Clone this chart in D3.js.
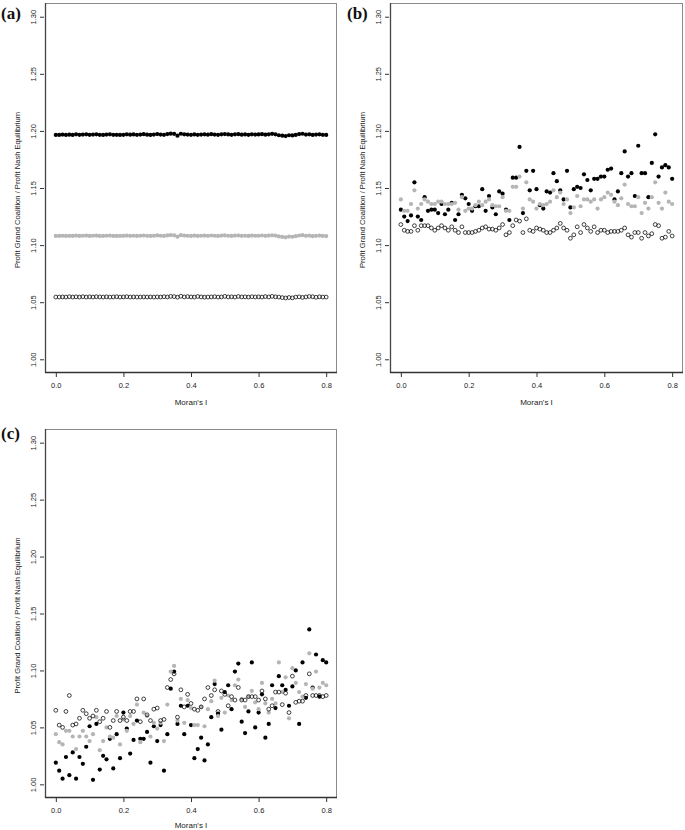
<!DOCTYPE html>
<html>
<head>
<meta charset="utf-8">
<script src="https://cdn.jsdelivr.net/npm/d3@7/dist/d3.min.js"></script>
<style>
  html, body { margin: 0; padding: 0; background: #fff; }
  svg { display: block; }
  text { font-family: "Liberation Sans", Arial, Helvetica, sans-serif; }
</style>
</head>
<body>
<svg id="chart" width="685" height="830"></svg>
<script>
// ---------- DATA ----------
const moranI = [0.00,0.01,0.02,0.03,0.04,0.05,0.06,0.07,0.08,0.09,0.10,0.11,0.12,0.13,0.14,0.15,0.16,0.17,0.18,0.19,
  0.20,0.21,0.22,0.23,0.24,0.25,0.26,0.27,0.28,0.29,0.30,0.31,0.32,0.33,0.34,0.35,0.36,0.37,0.38,0.39,
  0.40,0.41,0.42,0.43,0.44,0.45,0.46,0.47,0.48,0.49,0.50,0.51,0.52,0.53,0.54,0.55,0.56,0.57,0.58,0.59,
  0.60,0.61,0.62,0.63,0.64,0.65,0.66,0.67,0.68,0.69,0.70,0.71,0.72,0.73,0.74,0.75,0.76,0.77,0.78,0.79,0.80];

const yTicks = [1.00, 1.05, 1.10, 1.15, 1.20, 1.25, 1.30];
const xTicks = [0.0, 0.2, 0.4, 0.6, 0.8];
const xLabel = "Moran's I";
const yLabel = "Profit Grand Coalition / Profit Nash Equilibrium";
const panelLabels = ["(a)", "(b)", "(c)"];

// Panel (a)
const aBlack = [1.1965,1.1965,1.1968,1.1965,1.1967,1.1965,1.1970,1.1966,1.1968,1.1970,1.1966,1.1968,1.1970,1.1966,1.1965,1.1968,1.1970,1.1966,1.1966,1.1965,
  1.1966,1.1970,1.1967,1.1969,1.1966,1.1968,1.1971,1.1967,1.1965,1.1968,1.1972,1.1968,1.1966,1.1972,1.1976,1.1974,1.1958,1.1975,1.1970,1.1968,
  1.1966,1.1969,1.1966,1.1968,1.1970,1.1967,1.1971,1.1968,1.1966,1.1970,1.1972,1.1969,1.1966,1.1970,1.1971,1.1967,1.1969,1.1966,1.1970,1.1968,
  1.1969,1.1971,1.1967,1.1970,1.1974,1.1970,1.1962,1.1958,1.1955,1.1962,1.1960,1.1965,1.1972,1.1975,1.1968,1.1970,1.1965,1.1968,1.1970,1.1966,1.1965];
const aGray = [1.1080,1.1080,1.1082,1.1080,1.1081,1.1080,1.1083,1.1080,1.1082,1.1083,1.1080,1.1082,1.1083,1.1080,1.1080,1.1082,1.1083,1.1080,1.1080,1.1080,
  1.1081,1.1083,1.1081,1.1082,1.1080,1.1082,1.1084,1.1081,1.1080,1.1082,1.1085,1.1082,1.1080,1.1085,1.1088,1.1086,1.1074,1.1087,1.1083,1.1082,
  1.1080,1.1083,1.1080,1.1082,1.1083,1.1081,1.1084,1.1082,1.1080,1.1083,1.1085,1.1082,1.1080,1.1083,1.1084,1.1081,1.1082,1.1080,1.1083,1.1082,
  1.1082,1.1084,1.1081,1.1083,1.1086,1.1083,1.1076,1.1072,1.1068,1.1075,1.1073,1.1078,1.1084,1.1087,1.1081,1.1083,1.1078,1.1081,1.1083,1.1080,1.1079];
const aOpen = [1.0545,1.0545,1.0546,1.0545,1.0548,1.0545,1.0547,1.0545,1.0548,1.0545,1.0547,1.0545,1.0548,1.0546,1.0545,1.0547,1.0545,1.0546,1.0548,1.0545,
  1.0546,1.0548,1.0545,1.0546,1.0545,1.0545,1.0546,1.0545,1.0546,1.0545,1.0546,1.0545,1.0548,1.0546,1.0551,1.0549,1.0544,1.0552,1.0546,1.0549,
  1.0546,1.0545,1.0550,1.0546,1.0544,1.0545,1.0546,1.0548,1.0545,1.0546,1.0551,1.0546,1.0547,1.0545,1.0550,1.0546,1.0547,1.0545,1.0548,1.0546,
  1.0547,1.0545,1.0549,1.0546,1.0551,1.0547,1.0545,1.0540,1.0537,1.0541,1.0538,1.0545,1.0547,1.0542,1.0546,1.0550,1.0548,1.0543,1.0547,1.0545,1.0545];

// Panel (b)
const bBlack = [1.131,1.125,1.121,1.126,1.155,1.125,1.122,1.142,1.130,1.131,1.131,1.128,1.136,1.127,1.131,1.137,1.122,1.127,1.144,1.141,
  1.136,1.130,1.134,1.134,1.149,1.130,1.143,1.133,1.127,1.147,1.145,1.131,1.122,1.159,1.159,1.186,1.128,1.165,1.148,1.165,
  1.149,1.135,1.132,1.147,1.146,1.163,1.156,1.148,1.140,1.165,1.133,1.149,1.151,1.150,1.162,1.157,1.148,1.158,1.158,1.160,
  1.160,1.166,1.167,1.140,1.147,1.163,1.182,1.160,1.163,1.143,1.187,1.163,1.163,1.142,1.172,1.197,1.160,1.168,1.170,1.168,1.158];
const bGray = [1.140,1.130,1.130,1.136,1.148,1.132,1.136,1.140,1.138,1.136,1.136,1.138,1.138,1.136,1.136,1.136,1.137,1.131,1.142,1.130,
  1.132,1.132,1.135,1.138,1.135,1.138,1.140,1.135,1.134,1.134,1.142,1.130,1.130,1.151,1.151,1.160,1.132,1.155,1.140,1.138,
  1.132,1.136,1.135,1.136,1.138,1.148,1.142,1.146,1.136,1.140,1.128,1.133,1.143,1.134,1.140,1.140,1.138,1.140,1.132,1.140,
  1.142,1.146,1.144,1.138,1.135,1.141,1.153,1.136,1.134,1.134,1.142,1.128,1.137,1.132,1.142,1.155,1.137,1.132,1.146,1.138,1.136];
const bOpen = [1.118,1.113,1.112,1.112,1.117,1.113,1.117,1.117,1.117,1.115,1.113,1.115,1.117,1.115,1.113,1.116,1.113,1.111,1.116,1.111,
  1.111,1.111,1.112,1.113,1.115,1.116,1.114,1.114,1.113,1.115,1.118,1.109,1.111,1.117,1.122,1.121,1.111,1.123,1.113,1.112,
  1.115,1.114,1.113,1.111,1.111,1.113,1.115,1.119,1.115,1.113,1.106,1.109,1.116,1.111,1.118,1.115,1.112,1.116,1.111,1.113,
  1.113,1.111,1.112,1.112,1.112,1.113,1.115,1.109,1.107,1.111,1.111,1.106,1.111,1.108,1.110,1.118,1.117,1.106,1.107,1.112,1.108];

// Panel (c)
const cBlack = [1.019,1.012,1.005,1.024,1.008,1.028,1.005,1.024,1.018,1.033,1.051,1.004,1.053,1.013,1.025,1.022,1.040,1.014,1.044,1.023,
  1.063,1.049,1.027,1.039,1.056,1.040,1.040,1.046,1.019,1.051,1.038,1.052,1.012,1.044,1.084,1.099,1.053,1.069,1.044,1.069,
  1.052,1.023,1.031,1.041,1.021,1.035,1.059,1.088,1.062,1.048,1.081,1.087,1.066,1.099,1.106,1.055,1.045,1.064,1.107,1.050,
  1.063,1.079,1.041,1.053,1.087,1.067,1.095,1.087,1.083,1.069,1.086,1.100,1.053,1.107,1.076,1.136,1.085,1.114,1.077,1.109,1.107];
const cGray = [1.044,1.037,1.035,1.047,1.047,1.042,1.031,1.042,1.047,1.042,1.038,1.044,1.059,1.030,1.038,1.050,1.042,1.041,1.060,1.035,
  1.057,1.047,1.060,1.053,1.070,1.037,1.063,1.060,1.042,1.054,1.049,1.054,1.038,1.070,1.099,1.104,1.056,1.075,1.054,1.074,
  1.067,1.052,1.052,1.068,1.051,1.066,1.073,1.091,1.060,1.076,1.063,1.078,1.074,1.087,1.092,1.075,1.068,1.077,1.082,1.072,
  1.066,1.089,1.071,1.063,1.075,1.071,1.107,1.081,1.094,1.058,1.102,1.089,1.081,1.077,1.088,1.115,1.084,1.099,1.085,1.089,1.087];
const cOpen = [1.065,1.052,1.050,1.064,1.078,1.052,1.053,1.058,1.065,1.062,1.058,1.060,1.065,1.055,1.058,1.064,1.050,1.056,1.064,1.056,
  1.059,1.056,1.064,1.064,1.075,1.055,1.075,1.061,1.056,1.066,1.067,1.056,1.057,1.085,1.092,1.097,1.059,1.083,1.068,1.079,
  1.071,1.066,1.065,1.068,1.075,1.085,1.078,1.083,1.064,1.082,1.079,1.069,1.077,1.074,1.085,1.074,1.074,1.077,1.077,1.077,
  1.074,1.082,1.075,1.066,1.069,1.081,1.081,1.070,1.080,1.063,1.095,1.072,1.073,1.073,1.078,1.097,1.078,1.078,1.078,1.077,1.078];

// ---------- DRAW ----------
const svg = d3.select("#chart");
const xDomain = [-0.032, 0.832];
const yDomain = [0.988, 1.312];

const panels = [
  { label: panelLabels[0], left: 45,  right: 337, top: 3,   bottom: 373, black: aBlack, gray: aGray, open: aOpen, lx: 1,   ly: 19, tOff: 32 },
  { label: panelLabels[1], left: 390, right: 683, top: 3,   bottom: 373, black: bBlack, gray: bGray, open: bOpen, lx: 347, ly: 19, tOff: 32 },
  { label: panelLabels[2], left: 45,  right: 337, top: 429, bottom: 798, black: cBlack, gray: cGray, open: cOpen, lx: 1,   ly: 439, tOff: 29.5 }
];

panels.forEach(p => {
  const x = d3.scaleLinear().domain(xDomain).range([p.left, p.right]);
  const y = d3.scaleLinear().domain(yDomain).range([p.bottom, p.top]);
  const g = svg.append("g");

  // box
  g.append("rect")
    .attr("x", p.left + 0.5).attr("y", p.top + 0.5)
    .attr("width", p.right - p.left - 1).attr("height", p.bottom - p.top - 1)
    .attr("fill", "none").attr("stroke", "#8a8a8a").attr("stroke-width", 1);
  g.append("line").attr("x1", p.left + 0.5).attr("x2", p.left + 0.5)
    .attr("y1", p.top).attr("y2", p.bottom).attr("stroke", "#444").attr("stroke-width", 1.3);
  g.append("line").attr("x1", p.left).attr("x2", p.right)
    .attr("y1", p.bottom - 0.5).attr("y2", p.bottom - 0.5).attr("stroke", "#333").attr("stroke-width", 1.3);

  // y axis
  const ya = g.append("g").attr("transform", `translate(${p.left - 1},0)`)
    .call(d3.axisLeft(y).tickValues(yTicks).tickSize(4).tickFormat(d3.format(".2f")));
  ya.select(".domain").remove();
  ya.selectAll(".tick line").attr("stroke", "#333");
  ya.selectAll(".tick text")
    .attr("x", null).attr("dy", null)
    .attr("transform", "translate(-8,0) rotate(-90)")
    .attr("text-anchor", "middle")
    .attr("font-size", 7.5).attr("fill", "#222")
    .style("font-family", "'Liberation Sans', Arial, sans-serif");

  // x axis
  const xa = g.append("g").attr("transform", `translate(0,${p.bottom})`)
    .call(d3.axisBottom(x).tickValues(xTicks).tickSize(4).tickFormat(d3.format(".1f")));
  xa.select(".domain").remove();
  xa.selectAll(".tick line").attr("stroke", "#333");
  xa.selectAll(".tick text")
    .attr("y", 9.5)
    .attr("font-size", 7.5).attr("fill", "#222")
    .style("font-family", "'Liberation Sans', Arial, sans-serif");

  // axis titles
  g.append("text")
    .attr("x", (x(0) + x(0.8)) / 2).attr("y", p.bottom + p.tOff)
    .attr("text-anchor", "middle").attr("font-size", 8).attr("fill", "#222")
    .text(xLabel);
  g.append("text")
    .attr("transform", `translate(${p.left - 25},${(p.top + p.bottom) / 2 + 2}) rotate(-90)`)
    .attr("text-anchor", "middle").attr("font-size", 7.6).attr("fill", "#222")
    .text(yLabel);

  // panel label
  g.append("text")
    .attr("x", p.lx).attr("y", p.ly)
    .style("font-family", "'Liberation Serif', 'Times New Roman', serif")
    .attr("font-weight", "bold").attr("font-size", 17).attr("fill", "#111")
    .text(p.label);

  // points
  g.append("g").selectAll("circle").data(p.black).join("circle")
    .attr("cx", (d, i) => x(moranI[i])).attr("cy", d => y(d))
    .attr("r", 2.1).attr("fill", "#000");
  g.append("g").selectAll("circle").data(p.gray).join("circle")
    .attr("cx", (d, i) => x(moranI[i])).attr("cy", d => y(d))
    .attr("r", 2.1).attr("fill", "#b5b5b5");
  g.append("g").selectAll("circle").data(p.open).join("circle")
    .attr("cx", (d, i) => x(moranI[i])).attr("cy", d => y(d))
    .attr("r", 1.9).attr("fill", "none").attr("stroke", "#111").attr("stroke-width", 0.8);
});
</script>
</body>
</html>
